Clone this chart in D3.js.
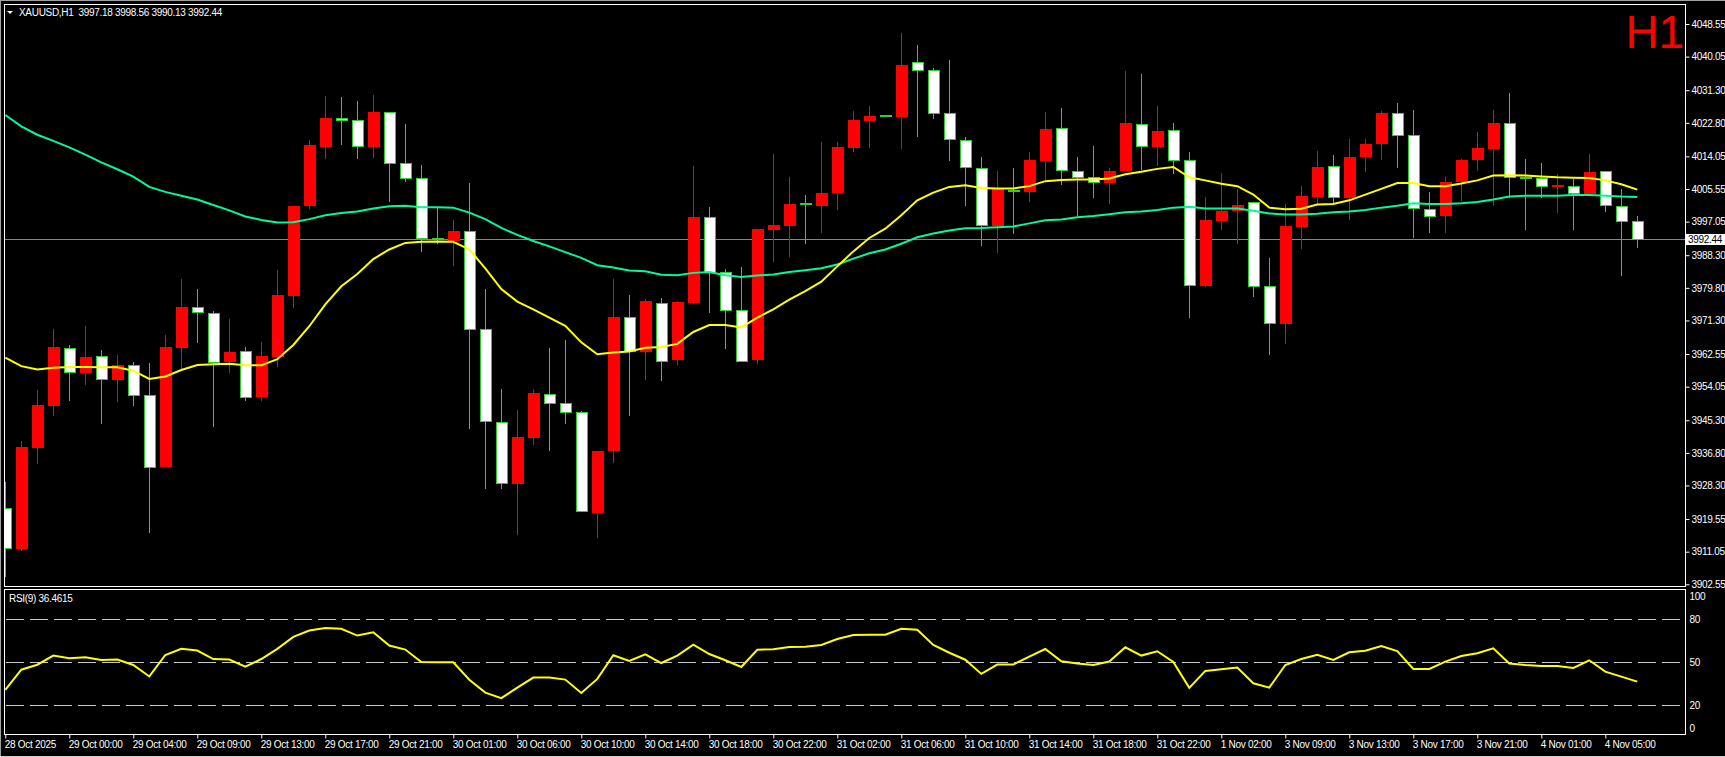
<!DOCTYPE html>
<html><head><meta charset="utf-8">
<script src="https://cdn.jsdelivr.net/npm/d3@7"></script>
<style>
html,body{margin:0;padding:0;background:#000;overflow:hidden}
svg{display:block}
text{font-family:"Liberation Sans",Arial,sans-serif;}
</style>
</head><body>
<svg id="chart" width="1725" height="757"></svg>
<script>
// ---------- DATA ----------
const symbolTitle = "XAUUSD,H1  3997.18 3998.56 3990.13 3992.44";
const rsiTitle = "RSI(9) 36.4615";
const periodLabel = "H1";
const lastPrice = 3992.44;

const timeLabels = ["28 Oct 2025","29 Oct 00:00","29 Oct 04:00","29 Oct 09:00","29 Oct 13:00","29 Oct 17:00","29 Oct 21:00","30 Oct 01:00","30 Oct 06:00","30 Oct 10:00","30 Oct 14:00","30 Oct 18:00","30 Oct 22:00","31 Oct 02:00","31 Oct 06:00","31 Oct 10:00","31 Oct 14:00","31 Oct 18:00","31 Oct 22:00","1 Nov 02:00","3 Nov 09:00","3 Nov 13:00","3 Nov 17:00","3 Nov 21:00","4 Nov 01:00","4 Nov 05:00"];

const priceTicks = [4048.55,4040.05,4031.30,4022.80,4014.05,4005.55,3997.05,3988.30,3979.80,3971.30,3962.55,3954.05,3945.30,3936.80,3928.30,3919.55,3911.05,3902.55];
const rsiTicks = [100,80,50,20,0];
const rsiLevels = [80,50,20];

const openP = [
3922.4,3911.8,3938.0,3949.0,3964.05,3957.7,3961.8,3955.85,3959.6,3951.8,
3933.05,3964.2,3974.8,3973.2,3960.4,3963.1,3951.3,3961.9,3977.7,4001.2,
4016.5,4023.9,4023.4,4016.5,4025.5,4012.1,4008.2,3992.6,3992.1,3994.55,
3968.9,3944.7,3928.6,3940.65,3952.1,3949.7,3947.4,3921.2,3937.3,3972.2,
3962.96,3975.7,3960.9,3975.8,3998.2,3983.9,3973.8,3960.9,3994.9,3996.0,
4001.55,4001.2,4004.4,4016.3,4023.3,4024.55,4024.25,4038.4,4036.5,4025.2,
4018.1,4011.0,3996.0,4005.1,4004.9,4012.8,4021.3,4010.2,4008.5,4007.2,
4010.2,4022.3,4016.5,4020.8,4012.9,3980.2,3997.1,3999.7,4002.1,3980.1,
3970.4,3995.7,4003.6,4011.3,4003.3,4013.9,4017.2,4025.2,4019.4,4000.3,
3998.4,4007.3,4013.2,4016.1,4022.6,4008.6,4008.2,4006.2,4006.1,4004.3,
4010.0,4001.06,3997.18];

const highP = [
3929.1,3939.8,3953.3,3969.2,3964.9,3969.97,3963.6,3962.4,3960.5,3960.3,
3967.6,3982.0,3979.4,3973.8,3971.8,3964.4,3965.7,3984.4,4001.2,4018.4,
4029.8,4029.5,4028.5,4030.1,4025.5,4022.4,4011.9,4000.7,3997.6,4007.2,
3979.5,3953.5,3948.05,3953.5,3964.05,3966.1,3947.6,3937.4,3982.0,3978.06,
3976.98,3977.2,3976.3,4011.6,4000.96,3984.7,3985.2,3995.1,4014.8,4008.66,
4004.0,4017.9,4017.7,4025.8,4027.1,4024.65,4046.3,4043.1,4037.1,4039.26,
4019.0,4013.8,4010.3,4011.1,4015.1,4025.5,4026.6,4013.99,4016.65,4011.1,
4036.3,4035.5,4027.1,4022.7,4015.1,4003.5,4009.8,4005.6,4002.1,3987.5,
4001.65,4006.4,4015.4,4014.3,4018.5,4018.6,4026.0,4027.9,4026.1,4004.8,
4008.6,4013.5,4020.3,4026.1,4030.6,4013.5,4012.2,4009.55,4008.05,4014.8,
4010.0,4005.6,3998.56];

const lowP = [
3904.4,3911.3,3934.0,3946.4,3950.3,3954.5,3944.3,3950.0,3948.9,3915.8,
3933.0,3958.7,3965.3,3943.6,3957.7,3950.4,3950.4,3959.3,3974.5,4000.4,
4013.3,4017.15,4013.3,4013.6,4002.25,4007.3,3989.2,3991.1,3985.6,3943.0,
3927.3,3927.3,3915.5,3938.9,3937.3,3944.4,3921.4,3914.6,3934.1,3946.5,
3955.85,3955.4,3959.8,3975.7,3973.2,3963.75,3960.7,3959.9,3986.65,3987.9,
3991.1,3994.05,4000.0,4015.2,4016.3,4024.45,4015.96,4019.1,4023.9,4012.8,
4001.25,3990.8,3988.8,3993.95,4002.05,4007.97,4006.6,3998.4,4003.3,4001.65,
4010.2,4010.5,4011.5,4009.55,3972.0,3979.9,3994.9,3991.1,3977.4,3962.2,
3965.1,3990.0,4001.65,4001.65,3997.6,4009.9,4013.2,4011.0,3992.9,3994.1,
3994.1,4002.3,4010.3,4001.2,4003.1,3994.9,4003.1,3999.2,3994.9,4004.3,
3999.5,3982.9,3990.13];

const closeP = [
3911.8,3938.2,3949.2,3964.4,3957.8,3961.9,3955.9,3959.7,3951.8,3933.05,
3964.4,3974.9,3973.3,3960.4,3963.2,3951.3,3962.1,3977.9,4001.2,4016.95,
4023.96,4023.4,4016.6,4025.5,4012.1,4008.2,3992.6,3992.4,3994.6,3968.9,
3945.0,3928.7,3940.85,3952.4,3949.7,3947.4,3921.4,3937.4,3972.3,3963.2,
3976.3,3960.7,3975.99,3998.3,3983.9,3974.0,3960.7,3995.1,3996.2,4001.75,
4001.55,4004.6,4016.4,4023.5,4024.7,4024.55,4037.9,4036.5,4025.2,4018.4,
4011.1,3996.1,4005.7,4005.1,4013.0,4021.1,4010.3,4008.6,4007.2,4010.2,
4022.7,4016.6,4020.6,4012.9,3980.4,3997.5,3999.9,4001.35,3980.1,3970.4,
3995.9,4003.8,4011.4,4003.4,4013.99,4017.4,4025.3,4019.4,4000.4,3998.5,
4007.5,4013.2,4016.2,4022.7,4008.6,4008.2,4006.1,4006.3,4004.5,4010.0,
4001.35,3997.2,3992.44];

const maFast = [
3961.6,3959.4,3958.5,3959.0,3959.2,3959.2,3959.1,3959.1,3958.2,3956.05,
3956.7,3958.4,3959.7,3959.9,3960.0,3959.6,3959.6,3961.2,3964.9,3969.8,
3975.5,3980.2,3983.4,3987.3,3989.8,3991.5,3991.8,3991.9,3991.8,3989.8,
3984.9,3979.5,3976.2,3974.2,3972.05,3969.9,3965.6,3962.5,3962.96,3963.2,
3964.2,3964.4,3965.2,3968.3,3970.1,3970.1,3969.5,3972.05,3974.2,3976.7,
3978.95,3981.4,3985.4,3989.3,3992.8,3995.2,3998.7,4002.6,4004.6,4006.1,
4006.5,4005.8,4005.7,4005.7,4006.3,4007.6,4007.9,4008.0,4008.0,4008.3,
4009.4,4010.05,4010.8,4011.3,4008.6,4007.8,4006.9,4006.3,4004.1,4000.7,
4000.3,4000.4,4001.5,4001.65,4002.6,4004.1,4005.6,4007.1,4007.1,4006.3,
4006.3,4007.0,4007.8,4009.05,4009.15,4009.05,4008.8,4008.6,4008.5,4008.4,
4007.8,4006.8,4005.4];

const maSlow = [
4024.85,4021.9,4019.7,4018.1,4016.4,4014.5,4012.5,4010.7,4008.8,4006.1,
4004.8,4003.8,4002.8,4001.4,4000.0,3998.4,3997.5,3996.8,3996.9,3997.7,
3998.7,3999.3,3999.7,4000.45,4001.05,4001.2,4000.8,4000.8,4000.7,3999.4,
3997.7,3995.4,3993.6,3992.0,3990.6,3989.1,3987.6,3985.7,3985.1,3984.3,
3984.1,3983.2,3983.1,3983.7,3983.9,3983.1,3982.6,3983.0,3983.3,3983.9,
3984.4,3984.9,3985.9,3987.4,3988.8,3989.8,3991.3,3992.97,3993.95,3994.75,
3995.3,3995.4,3995.6,3995.8,3996.6,3997.4,3997.6,3998.2,3998.5,3999.0,
3999.5,3999.7,4000.1,4000.7,4000.9,4000.45,4000.45,4000.45,3999.9,3999.2,
3998.9,3998.9,3999.1,3999.5,3999.7,4000.1,4000.7,4001.2,4001.85,4001.65,
4001.65,4001.85,4002.15,4002.8,4003.6,4003.8,4003.8,4003.8,4004.0,4004.0,
4003.8,4003.6,4003.5];

const rsiValues = [
30.8,44.8,48.3,54.7,52.8,53.5,51.6,51.9,48.1,40.1,
55.1,59.4,58.2,52.3,51.9,46.9,52.3,59.4,67.8,72.2,
73.9,73.4,68.7,71.0,61.7,58.9,50.2,50.0,50.0,37.8,
28.8,24.9,32.3,39.3,39.3,37.9,28.6,38.4,54.9,50.9,
55.6,49.5,54.7,62.3,55.8,51.4,46.7,58.8,59.1,60.7,
60.9,62.1,66.3,69.1,69.3,69.3,73.5,72.8,62.1,56.7,
51.8,41.9,48.4,48.4,54.0,59.3,50.7,49.1,48.1,50.5,
60.5,54.7,57.7,50.2,32.1,44.0,45.1,46.3,35.3,32.3,
48.1,52.3,55.3,51.6,57.0,58.1,61.4,57.9,45.3,45.3,
50.5,54.4,56.3,59.8,49.1,48.1,47.4,47.4,46.0,51.4,
43.5,40.0,36.46];

// ---------- STYLE / LAYOUT ----------
const W = 1725, H = 757;
const plotL = 4.5, plotR = 1685.5, mainT = 4.5, mainB = 586.5, rsiT = 589.5, rsiB = 734.5;
const RED = "#ff0000", GREEN = "#32cd32", YELLOW = "#ffff00", SPRING = "#00fa9a", FG = "#ffffff";
const FONT = 10, LS = "-0.3px";

const svg = d3.select("#chart");
svg.append("rect").attr("width", W).attr("height", H).attr("fill", "#000");

const n = openP.length;
const bars = d3.range(n).map(i => ({i, o: openP[i], h: highP[i], l: lowP[i], c: closeP[i]}));

const x = d3.scaleLinear().domain([0, n - 1]).range([5.3, 5.3 + 16 * (n - 1)]);
const y = d3.scaleLinear().domain([3902.55, 4048.55]).range([584.3, 24]);
const yr = d3.scaleLinear().domain([0, 100]).range([733.8, 590.8]);

const defs = svg.append("defs");
defs.append("clipPath").attr("id", "clipMain").append("rect")
  .attr("x", plotL).attr("y", mainT).attr("width", plotR - plotL).attr("height", mainB - mainT);
defs.append("clipPath").attr("id", "clipRsi").append("rect")
  .attr("x", plotL).attr("y", rsiT).attr("width", plotR - plotL).attr("height", rsiB - rsiT);

// window edges
svg.append("line").attr("x1", 0).attr("x2", W).attr("y1", 0.5).attr("y2", 0.5).attr("stroke", "#a0a0a0");
svg.append("line").attr("x1", 0.5).attr("x2", 0.5).attr("y1", 0).attr("y2", H).attr("stroke", "#a0a0a0");
svg.append("line").attr("x1", 0).attr("x2", W).attr("y1", H - 0.5).attr("y2", H - 0.5).attr("stroke", "#d0d0d0");

// ---------- MAIN PANEL ----------
const gMain = svg.append("g").attr("clip-path", "url(#clipMain)");

// current price line
gMain.append("line").attr("x1", plotL).attr("x2", plotR)
  .attr("y1", Math.round(y(lastPrice)) + 0.5).attr("y2", Math.round(y(lastPrice)) + 0.5)
  .attr("stroke", "#778899").attr("stroke-width", 1);

const cx = i => Math.round(x(i)) + 0.5;
const isBull = d => d.c > d.o;
const candle = gMain.append("g").attr("shape-rendering", "crispEdges")
  .selectAll("g").data(bars).join("g");

candle.append("line")
  .attr("x1", d => cx(d.i)).attr("x2", d => cx(d.i))
  .attr("y1", d => y(d.h)).attr("y2", d => y(d.l))
  .attr("stroke", d => isBull(d) ? RED : GREEN).attr("stroke-width", 1);

candle.each(function(d) {
  const g = d3.select(this);
  const top = y(Math.max(d.o, d.c)), bot = y(Math.min(d.o, d.c));
  const c = cx(d.i);
  if (bot - top < 1.2) {
    g.append("line").attr("x1", c - 6).attr("x2", c + 6)
      .attr("y1", (top + bot) / 2).attr("y2", (top + bot) / 2)
      .attr("stroke", isBull(d) ? RED : GREEN).attr("stroke-width", 2);
  } else if (isBull(d)) {
    g.append("rect").attr("x", c - 6).attr("width", 12)
      .attr("y", top).attr("height", bot - top).attr("fill", RED);
  } else {
    g.append("rect").attr("x", c - 5.5).attr("width", 11)
      .attr("y", top).attr("height", Math.max(1, bot - top))
      .attr("fill", "#ffffff").attr("stroke", GREEN).attr("stroke-width", 1);
  }
});

const lineGen = d3.line().x((d, i) => x(i)).y(d => y(d));
gMain.append("path").datum(maSlow).attr("d", lineGen)
  .attr("fill", "none").attr("stroke", SPRING).attr("stroke-width", 2);
gMain.append("path").datum(maFast).attr("d", lineGen)
  .attr("fill", "none").attr("stroke", YELLOW).attr("stroke-width", 2);

// header
svg.append("path").attr("d", "M7,11 L13,11 L10,14 Z").attr("fill", FG);
svg.append("text").attr("x", 19).attr("y", 16).attr("fill", FG)
  .attr("font-size", FONT).attr("letter-spacing", LS).attr("xml:space", "preserve")
  .style("white-space", "pre").text(symbolTitle);

svg.append("text").attr("x", 1625.4).attr("y", 48.3).attr("fill", RED)
  .attr("font-size", 46).text(periodLabel);

// price axis
const yAxis = d3.axisRight(y).tickValues(priceTicks).tickFormat(d3.format(".2f"))
  .tickSize(4).tickPadding(2);
const gy = svg.append("g").attr("transform", `translate(${plotR},0)`).call(yAxis);
gy.select(".domain").remove();
gy.selectAll("line").attr("stroke", FG);
gy.selectAll("text").attr("fill", FG).attr("font-size", FONT).attr("letter-spacing", LS)
  .attr("font-family", '"Liberation Sans", Arial, sans-serif');

// last price tag
const ly = y(lastPrice);
svg.append("rect").attr("x", 1686).attr("y", Math.round(ly) - 5).attr("width", 39).attr("height", 11).attr("fill", "#ffffff");
svg.append("text").attr("x", 1688).attr("y", ly + 3.8).attr("fill", "#000")
  .attr("font-size", FONT).attr("letter-spacing", LS).text(d3.format(".2f")(lastPrice));

// frames
svg.append("rect").attr("x", plotL).attr("y", mainT).attr("width", plotR - plotL).attr("height", mainB - mainT)
  .attr("fill", "none").attr("stroke", FG).attr("stroke-width", 1);

// ---------- RSI PANEL ----------
const gRsi = svg.append("g").attr("clip-path", "url(#clipRsi)");
gRsi.selectAll("line.lvl").data(rsiLevels).join("line").attr("class", "lvl")
  .attr("x1", 6).attr("x2", 1682)
  .attr("y1", d => Math.round(yr(d)) + 0.5).attr("y2", d => Math.round(yr(d)) + 0.5)
  .attr("stroke", "#c8c8c8").attr("stroke-width", 1).attr("stroke-dasharray", "18,6");

const rsiLine = d3.line().x((d, i) => x(i)).y(d => yr(d));
gRsi.append("path").datum(rsiValues).attr("d", rsiLine)
  .attr("fill", "none").attr("stroke", YELLOW).attr("stroke-width", 2);

svg.append("text").attr("x", 9).attr("y", 601.5).attr("fill", FG)
  .attr("font-size", FONT).attr("letter-spacing", LS).text(rsiTitle);

svg.append("rect").attr("x", plotL).attr("y", rsiT).attr("width", plotR - plotL).attr("height", rsiB - rsiT)
  .attr("fill", "none").attr("stroke", FG).attr("stroke-width", 1);

const rAxis = d3.axisRight(yr).tickValues(rsiTicks).tickFormat(d3.format("d")).tickSize(0).tickPadding(4);
const gr = svg.append("g").attr("transform", `translate(${plotR},0)`).call(rAxis);
gr.select(".domain").remove();
gr.selectAll("text").attr("fill", FG).attr("font-size", FONT).attr("letter-spacing", LS)
  .attr("font-family", '"Liberation Sans", Arial, sans-serif')
  .attr("dy", d => d === 100 ? "0.92em" : d === 0 ? "-0.28em" : "0.32em");

// time axis
const xAxis = d3.axisBottom(x).tickValues(d3.range(0, n, 4).slice(0, timeLabels.length))
  .tickFormat((d, i) => timeLabels[i]).tickSize(4).tickPadding(2);
const gx = svg.append("g").attr("transform", `translate(0,${rsiB})`).call(xAxis);
gx.select(".domain").remove();
gx.selectAll("line").attr("stroke", FG);
gx.selectAll("text").attr("fill", FG).attr("font-size", FONT).attr("letter-spacing", LS)
  .attr("font-family", '"Liberation Sans", Arial, sans-serif')
  .attr("text-anchor", "start").attr("x", -1);
</script>
</body></html>
